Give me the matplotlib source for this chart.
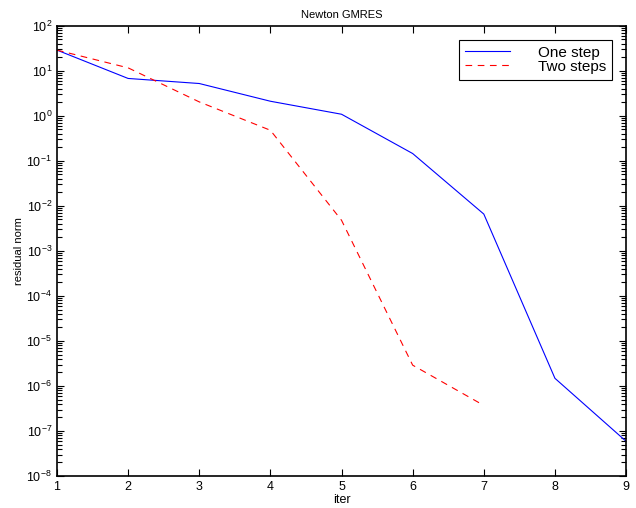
import matplotlib.pyplot as plt
import numpy as np
from matplotlib.ticker import FixedLocator, NullFormatter

plt.rcParams['font.family'] = ['Liberation Sans', 'DejaVu Sans']

iters_one = [1, 2, 3, 4, 5, 6, 7, 8, 9]
res_one = [29.0, 6.8, 5.25, 2.12, 1.09, 0.146, 0.0066, 1.48e-6, 5.9e-8]

iters_two = [1, 2, 3, 4, 5, 6, 7]
res_two = [29.0, 11.7, 2.05, 0.48, 0.0048, 2.9e-6, 3.7e-7]

fig = plt.figure(figsize=(6.36, 5.08), dpi=100)
ax = fig.add_axes([0.0896, 0.063, 0.8948, 0.886])

ax.semilogy(iters_one, res_one, color='blue', linewidth=0.8, label='One step')
ax.semilogy(iters_two, res_two, color='red', linewidth=0.8, linestyle=(0, (6, 5)), label='Two steps')

ax.set_xlim(1, 9)
ax.set_ylim(1e-8, 1e2)
ax.set_xticks(range(1, 10))
ax.set_yticks([10.0**k for k in range(-8, 3)])
minor = [m * 10.0**k for k in range(-8, 2) for m in range(2, 10)]
ax.set_yticks(minor, minor=True)
ax.yaxis.set_minor_formatter(NullFormatter())
ax.tick_params(which='both', direction='in', top=True, right=True, labelsize=9)
ax.tick_params(which='major', length=5, width=0.8)
ax.tick_params(axis='y', which='minor', length=3.5, width=0.8, left=True, right=True)
for s in ax.spines.values():
    s.set_linewidth(1.2)

ax.set_title('Newton GMRES', fontsize=8)
ax.set_xlabel('iter', fontsize=9, labelpad=1)
ax.set_ylabel('residual norm', fontsize=8, labelpad=2)

leg = ax.legend(loc='upper right', fontsize=11, fancybox=False, edgecolor='black',
                handlelength=3.0, borderaxespad=0.9, labelspacing=0.0,
                borderpad=0.4, handletextpad=1.8, framealpha=1)
leg.get_frame().set_linewidth(0.8)

plt.savefig('out.png', dpi=100)
